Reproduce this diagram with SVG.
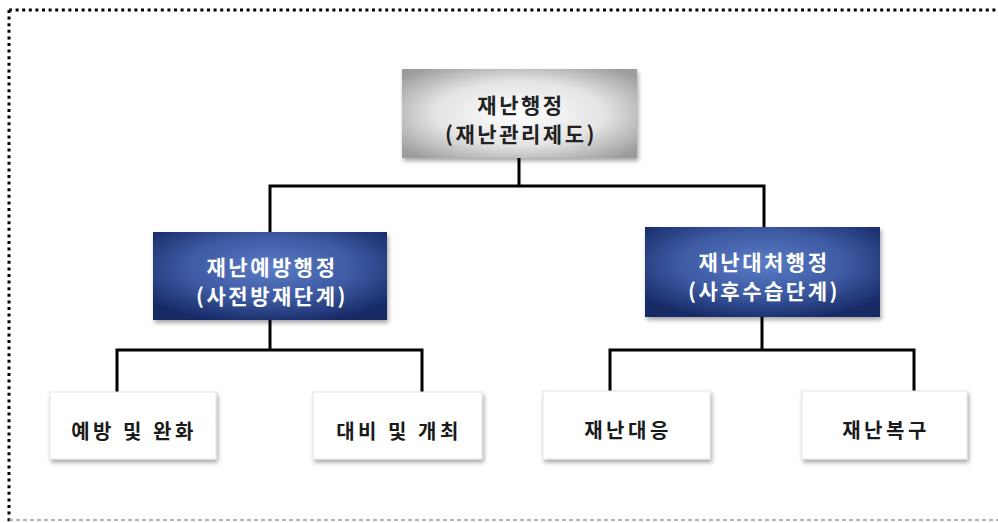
<svg xmlns="http://www.w3.org/2000/svg" width="998" height="523" viewBox="0 0 998 523">
<style>
.t{font-family:"Noto Sans CJK KR","Noto Sans",sans-serif;font-weight:bold;text-anchor:middle}
.top{font-size:21px;fill:#222;letter-spacing:2.5px}
.blue{font-size:21px;fill:#ffffff;letter-spacing:2.5px}
.leaf{font-size:20px;fill:#1a1a1a;letter-spacing:3.5px}
.c{stroke:#000;stroke-width:3;fill:none}
</style>
<defs>
<radialGradient id="gg" cx="50%" cy="50%" r="65%">
<stop offset="0" stop-color="#ffffff"/>
<stop offset="0.55" stop-color="#e4e4e4"/>
<stop offset="1" stop-color="#9c9c9c"/>
</radialGradient>
<radialGradient id="bg" cx="50%" cy="40%" r="65%">
<stop offset="0" stop-color="#5a7cc4"/>
<stop offset="0.55" stop-color="#3d5aa3"/>
<stop offset="1" stop-color="#172a66"/>
</radialGradient>
<filter id="sh" x="-10%" y="-10%" width="125%" height="130%">
<feDropShadow dx="1.5" dy="3" stdDeviation="2" flood-color="#000" flood-opacity="0.35"/>
</filter>
</defs>
<rect width="998" height="523" fill="#ffffff"/>
<g id="frame">
<line x1="9" y1="10" x2="998" y2="10" stroke="#000" stroke-width="3" stroke-dasharray="3 3.6"/>
<line x1="9" y1="10" x2="9" y2="523" stroke="#000" stroke-width="3" stroke-dasharray="3 3.6"/>
<line x1="9" y1="520" x2="998" y2="520" stroke="#9a9a9a" stroke-width="1.5" stroke-dasharray="4 3"/>
</g>
<g id="connectors">
<path class="c" d="M519 157 V186 M270 232 V186 H764 V227"/>
<path class="c" d="M270 319 V350 M117 392 V350 H422 V392"/>
<path class="c" d="M762 317 V350 M610 391 V350 H914 V391"/>
</g>
<g id="root">
<rect x="402" y="69" width="235" height="89" fill="url(#gg)" filter="url(#sh)"/>
<text class="t top" x="521" y="113">재난행정</text>
<text class="t top" x="521" y="142">(재난관리제도)</text>
</g>
<g id="prevention">
<rect x="153" y="232" width="234" height="88" fill="url(#bg)" filter="url(#sh)"/>
<text class="t blue" x="272" y="275">재난예방행정</text>
<text class="t blue" x="272" y="304">(사전방재단계)</text>
</g>
<g id="response">
<rect x="645" y="227" width="235" height="90" fill="url(#bg)" filter="url(#sh)"/>
<text class="t blue" x="764" y="270">재난대처행정</text>
<text class="t blue" x="764" y="299">(사후수습단계)</text>
</g>
<g id="leaf1">
<rect x="50" y="392" width="166" height="67" fill="#fff" stroke="#e4e4e4" filter="url(#sh)"/>
<text class="t leaf" x="134" y="439">예방 및 완화</text>
</g>
<g id="leaf2">
<rect x="313" y="392" width="169" height="67" fill="#fff" stroke="#e4e4e4" filter="url(#sh)"/>
<text class="t leaf" x="399" y="439">대비 및 개최</text>
</g>
<g id="leaf3">
<rect x="543" y="391" width="167" height="68" fill="#fff" stroke="#e4e4e4" filter="url(#sh)"/>
<text class="t leaf" x="628" y="438">재난대응</text>
</g>
<g id="leaf4">
<rect x="802" y="391" width="165" height="68" fill="#fff" stroke="#e4e4e4" filter="url(#sh)"/>
<text class="t leaf" x="886" y="438">재난복구</text>
</g>
</svg>
